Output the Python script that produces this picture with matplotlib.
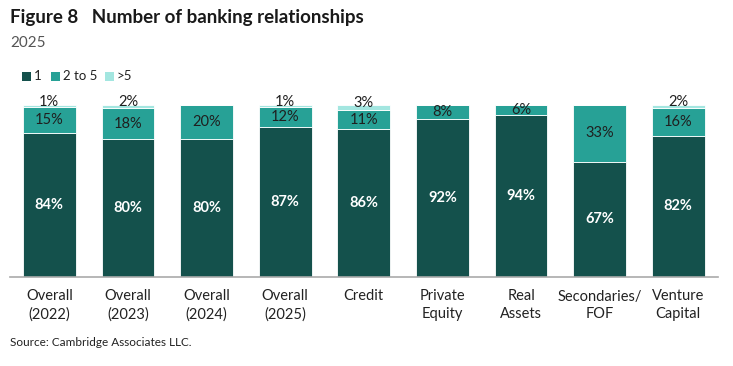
import matplotlib
matplotlib.use("Agg")
import matplotlib.pyplot as plt
from matplotlib.patches import Rectangle

categories = ["Overall\n(2022)", "Overall\n(2023)", "Overall\n(2024)", "Overall\n(2025)",
              "Credit", "Private\nEquity", "Real\nAssets", "Secondaries/\nFOF", "Venture\nCapital"]
one = [84, 80, 80, 87, 86, 92, 94, 67, 82]
two_to_five = [15, 18, 20, 12, 11, 8, 6, 33, 16]
more_than_five = [1, 2, 0, 1, 3, 0, 0, 0, 2]
series_names = ["1", "2 to 5", ">5"]

colors = ["#14514c", "#27a196", "#a3e6e0"]
label_colors = ["white", "#1f1f1f", "#1f1f1f"]
FONT = "Lato"
plt.rcParams["font.family"] = [FONT, "DejaVu Sans"]

fig = plt.figure(figsize=(7.33, 3.66), dpi=100)
ax = fig.add_axes([10/733, (366-277)/366, 707.6/733, 172/366])

x = list(range(len(categories)))
bottoms = [0]*len(categories)
for si, (vals, col, lc, name) in enumerate(zip([one, two_to_five, more_than_five], colors, label_colors, series_names)):
    ax.bar(x, vals, bottom=bottoms, width=0.67, color=col, edgecolor="white",
           linewidth=0.6, label=name)
    for xi, v, b in zip(x, vals, bottoms):
        if v > 0:
            yy = b + v/2
            if si == 2:
                yy += 2.5
            ax.text(xi, yy, f"{v}%", ha="center", va="center", color=lc,
                    fontsize=10.5, fontweight="bold" if lc == "white" else "normal",
                    clip_on=False)
    bottoms = [b + v for b, v in zip(bottoms, vals)]

ax.set_xlim(-0.5, 8.5)
ax.set_ylim(0, 100)
ax.set_yticks([])
ax.set_xticks(x)
ax.set_xticklabels(categories, fontsize=10.5, color="#222222", linespacing=1.35)
ax.tick_params(axis="x", length=0, pad=9)
for s in ["top", "right", "left"]:
    ax.spines[s].set_visible(False)
ax.spines["bottom"].set_color("#aaaaaa")
ax.spines["bottom"].set_linewidth(1.2)
ax.patch.set_alpha(0)

fig.text(10/733, 1 - 17/366, "Figure 8   Number of banking relationships", fontsize=13.5,
         fontweight="bold", color="#1a1a1a", va="center", ha="left")
fig.text(10/733, 1 - 43/366, "2025", fontsize=11, color="#555555", va="center", ha="left")
fig.text(10/733, 1 - 342/366, "Source: Cambridge Associates LLC.", fontsize=8.5,
         color="#222222", va="center", ha="left")

# legend
leg_items = [(22, "1"), (51, "2 to 5"), (105, ">5")]
for (lx, name), col in zip(leg_items, colors):
    fig.patches.append(Rectangle((lx/733, 1 - 81/366), 9/733, 9/366, transform=fig.transFigure,
                                 facecolor=col, edgecolor="none"))
    fig.text((lx + 12)/733, 1 - 76.5/366, name, fontsize=9.5, color="#222222", va="center", ha="left")

fig.savefig("out.png", dpi=100)
